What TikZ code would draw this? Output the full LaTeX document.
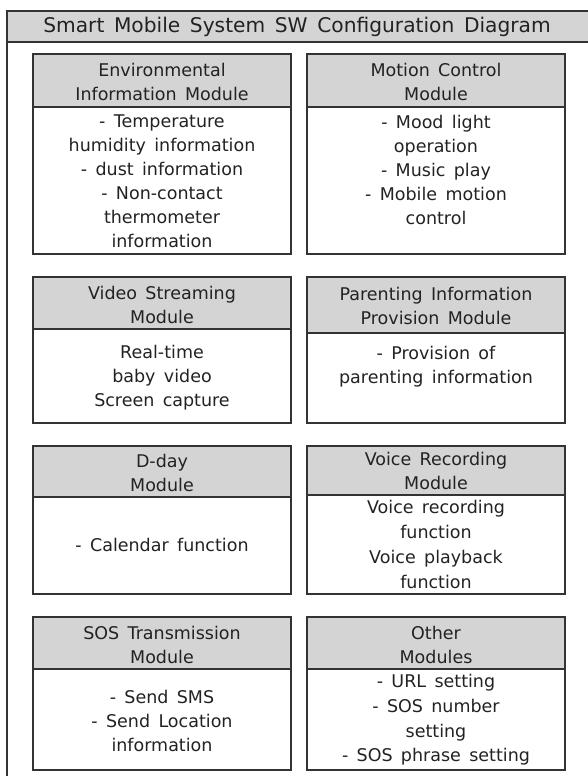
\documentclass[tikz,border=0pt]{standalone}
\usepackage{fontspec}
\setmainfont[WordSpace=1.5]{DejaVu Sans}
\definecolor{lc}{HTML}{333333}
\definecolor{hc}{HTML}{D4D4D4}
\definecolor{tc}{HTML}{222222}
\newcommand\modbox[5]{%
  \fill[hc] (#1,#2) rectangle (#4,#3);
  \draw[frameline] (#1,#2) rectangle (#4,#5);
  \draw[frameline] (#1,#3) -- (#4,#3);}
\begin{document}
\begin{tikzpicture}[x=1pt,y=-1pt,
  frameline/.style={draw=lc, line width=1.3pt},
  btext/.style={align=center, font=\fontsize{17.5}{24}\selectfont, text=tc, inner sep=0pt},
  ttext/.style={align=center, font=\fontsize{20.2}{26}\selectfont, text=tc, inner sep=0pt}]
\useasboundingbox (0,0) rectangle (587,776);
% outer frame
\fill[hc] (7,11) rectangle (592,42);
\draw[frameline] (592,11) -- (7,11) -- (7,780);
\draw[frameline] (7,42) -- (592,42);
\node[ttext] (title) at (297,27) {Smart Mobile System SW Configuration Diagram};
% boxes
\modbox{33}{54}{107}{291}{254}
\modbox{307}{54}{107}{565}{254}
\modbox{33}{277}{329}{291}{423}
\modbox{307}{277}{333}{565}{423}
\modbox{33}{446}{497}{291}{594}
\modbox{307}{446}{495}{565}{594}
\modbox{33}{617}{669}{291}{770}
\modbox{307}{617}{669}{565}{770}
% row 1
\node[btext] (h1) at (162,82) {Environmental\\Information Module};
\node[btext] (b1) at (162,181) {- Temperature\\humidity information\\- dust information\\- Non-contact\\thermometer\\information};
\node[btext] (h2) at (436,82) {Motion Control\\Module};
\node[btext] (b2) at (436,169.5) {- Mood light\\operation\\- Music play\\- Mobile motion\\control};
% row 2
\node[btext] (h3) at (162,304.5) {Video Streaming\\Module};
\node[btext] (b3) at (162,377.5) {Real-time\\baby video\\Screen capture};
\node[btext] (h4) at (436,305.5) {Parenting Information\\Provision Module};
\node[btext] (b4) at (436,366.5) {- Provision of\\parenting information};
% row 3
\node[btext] (h5) at (162,473) {D-day\\Module};
\node[btext] (b5) at (162,545) {- Calendar function};
\node[btext] (h6) at (436,471) {Voice Recording\\Module};
\node[btext, font=\fontsize{17.5}{25}\selectfont] (b6) at (436,544.5) {Voice recording\\function\\Voice playback\\function};
% row 4
\node[btext] (h7) at (162,644.5) {SOS Transmission\\Module};
\node[btext] (b7) at (162,720.5) {- Send SMS\\- Send Location\\information};
\node[btext] (h8) at (436,644.5) {Other\\Modules};
\node[btext, font=\fontsize{17.5}{24.7}\selectfont] (b8) at (436,720) {- URL setting\\- SOS number\\setting\\- SOS phrase setting};
\end{tikzpicture}
\end{document}
